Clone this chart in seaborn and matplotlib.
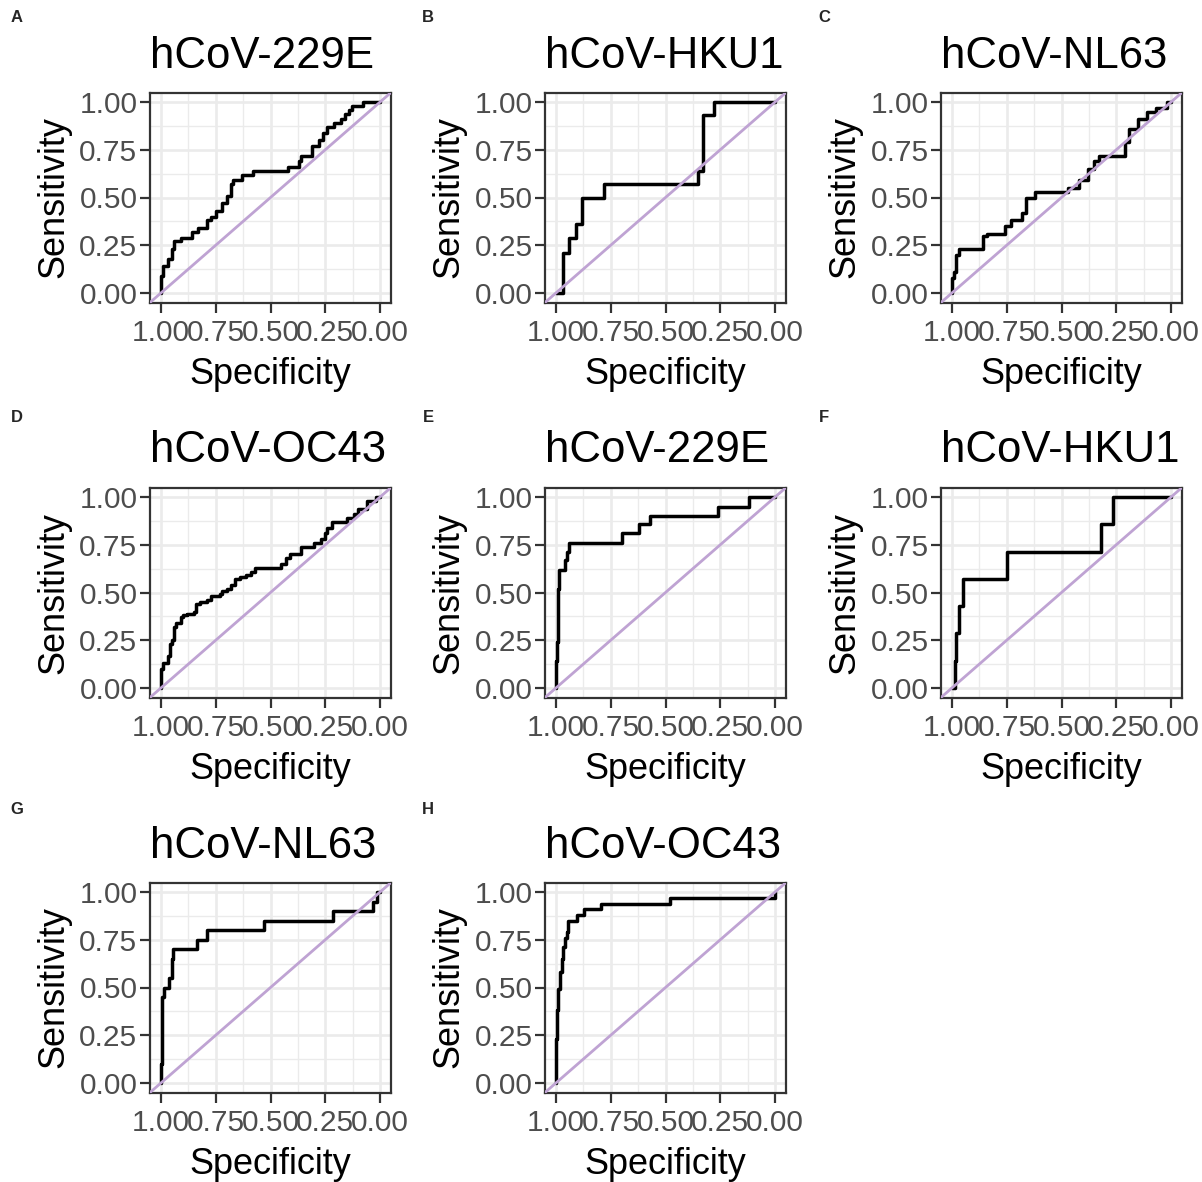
import matplotlib
matplotlib.use('Agg')
import matplotlib.pyplot as plt
import seaborn as sns
from matplotlib.ticker import FixedLocator, MultipleLocator

sns.set_theme(style='white')
plt.rcParams['font.family'] = ['Liberation Sans', 'DejaVu Sans']

TITLES = ['hCoV-229E', 'hCoV-HKU1', 'hCoV-NL63', 'hCoV-OC43',
          'hCoV-229E', 'hCoV-HKU1', 'hCoV-NL63', 'hCoV-OC43']
LETTERS = ['A', 'B', 'C', 'D', 'E', 'F', 'G', 'H']
TICKS = [1.00, 0.75, 0.50, 0.25, 0.00]

# ROC step corners (specificity, sensitivity)
spec_a = [1.00, 0.99, 0.97, 0.95, 0.94, 0.91, 0.86, 0.83, 0.79, 0.77, 0.75, 0.72, 0.70, 0.68, 0.67, 0.63,
          0.58, 0.42, 0.37, 0.36, 0.31, 0.28, 0.26, 0.24, 0.21, 0.18, 0.16, 0.14, 0.13, 0.08, 0.00]
sens_a = [0.00, 0.09, 0.14, 0.18, 0.23, 0.27, 0.29, 0.32, 0.34, 0.38, 0.40, 0.43, 0.47, 0.51, 0.57, 0.59,
          0.62, 0.64, 0.66, 0.69, 0.72, 0.77, 0.80, 0.84, 0.87, 0.89, 0.91, 0.94, 0.96, 0.98, 1.00]

spec_b = [1.00, 0.97, 0.94, 0.91, 0.88, 0.78, 0.35, 0.33, 0.28, 0.00]
sens_b = [0.00, 0.00, 0.21, 0.29, 0.36, 0.50, 0.57, 0.64, 0.93, 1.00]

spec_c = [1.00, 0.99, 0.98, 0.97, 0.86, 0.84, 0.76, 0.73, 0.68, 0.66, 0.62, 0.47, 0.42, 0.38, 0.35, 0.33,
          0.21, 0.19, 0.15, 0.11, 0.07, 0.02, 0.00]
sens_c = [0.00, 0.08, 0.11, 0.20, 0.23, 0.30, 0.31, 0.35, 0.38, 0.42, 0.50, 0.53, 0.55, 0.59, 0.65, 0.69,
          0.72, 0.79, 0.86, 0.91, 0.95, 0.97, 1.00]

spec_d = [1.00, 0.99, 0.97, 0.96, 0.95, 0.94, 0.93, 0.91, 0.90, 0.88, 0.85, 0.84, 0.82, 0.79, 0.77, 0.73,
          0.72, 0.70, 0.68, 0.66, 0.64, 0.61, 0.59, 0.57, 0.45, 0.43, 0.41, 0.36, 0.30, 0.27, 0.25, 0.24,
          0.22, 0.15, 0.12, 0.10, 0.06, 0.02, 0.00]
sens_d = [0.00, 0.10, 0.13, 0.17, 0.23, 0.25, 0.32, 0.34, 0.37, 0.38, 0.39, 0.40, 0.44, 0.45, 0.46, 0.48,
          0.49, 0.51, 0.52, 0.54, 0.57, 0.58, 0.59, 0.61, 0.63, 0.65, 0.68, 0.70, 0.74, 0.76, 0.78, 0.81,
          0.84, 0.87, 0.89, 0.91, 0.94, 0.98, 1.00]

spec_e = [1.00, 0.995, 0.99, 0.986, 0.96, 0.95, 0.94, 0.70, 0.62, 0.57, 0.26, 0.12, 0.00]
sens_e = [0.00, 0.14, 0.24, 0.52, 0.62, 0.67, 0.71, 0.76, 0.81, 0.86, 0.90, 0.95, 1.00]

spec_f = [1.00, 0.986, 0.98, 0.97, 0.95, 0.75, 0.32, 0.265, 0.00]
sens_f = [0.00, 0.00, 0.14, 0.29, 0.43, 0.57, 0.71, 0.86, 1.00]

spec_g = [1.00, 0.997, 0.994, 0.986, 0.962, 0.951, 0.947, 0.834, 0.791, 0.530, 0.216, 0.030, 0.012, 0.00]
sens_g = [0.00, 0.10, 0.25, 0.45, 0.50, 0.55, 0.65, 0.70, 0.75, 0.80, 0.85, 0.90, 0.95, 1.00]

spec_h = [1.00, 0.997, 0.992, 0.982, 0.974, 0.967, 0.959, 0.951, 0.944, 0.906, 0.871, 0.795, 0.479, 0.00, 0.00]
sens_h = [0.00, 0.23, 0.38, 0.49, 0.58, 0.65, 0.71, 0.76, 0.79, 0.85, 0.88, 0.91, 0.94, 0.97, 1.00]

CURVES = [(spec_a, sens_a), (spec_b, sens_b), (spec_c, sens_c), (spec_d, sens_d),
          (spec_e, sens_e), (spec_f, sens_f), (spec_g, sens_g), (spec_h, sens_h)]

W, H = 1202, 1182
COL_LEFT = [150, 545, 941]
ROW_TOP = [92.5, 487.5, 882.5]
LET_X = [17, 428, 824]
LET_Y = [18, 418, 810]
PW, PH = 241, 210

DIAG = '#BFA3D3'
GRID = '#EBEBEB'
DARK = '#333333'

fig = plt.figure(figsize=(W / 100, H / 100), dpi=100)

for i, (spec, sens) in enumerate(CURVES):
    r, c = divmod(i, 3)
    ax = fig.add_axes([COL_LEFT[c] / W, 1 - (ROW_TOP[r] + PH) / H, PW / W, PH / H])
    ax.set_axisbelow(True)
    sns.lineplot(x=spec, y=sens, sort=False, estimator=None, drawstyle='steps-pre',
                 color='black', lw=2.5, ax=ax, zorder=3)
    ax.axline((1, 0), (0, 1), color=DIAG, lw=2.0, zorder=4)

    ax.set_xlim(1.05, -0.05)
    ax.set_ylim(-0.05, 1.05)
    for axis in (ax.xaxis, ax.yaxis):
        axis.set_major_locator(FixedLocator(TICKS))
        axis.set_minor_locator(MultipleLocator(0.125))
    ax.set_xticklabels([f'{t:.2f}' for t in TICKS])
    ax.set_yticklabels([f'{t:.2f}' for t in TICKS])
    ax.grid(which='major', color=GRID, lw=1.9)
    ax.grid(which='minor', color=GRID, lw=1.0)
    ax.tick_params(which='major', length=7, width=1.6, color=DARK, labelsize=21.5,
                   labelcolor='#4D4D4D', pad=2, bottom=True, left=True)
    ax.tick_params(axis='x', pad=5)
    ax.tick_params(which='minor', length=0)
    for s in ax.spines.values():
        s.set_color(DARK)
        s.set_linewidth(1.6)

    ax.set_xlabel('Specificity', fontsize=26, color='black', labelpad=7)
    ax.set_ylabel('Sensitivity', fontsize=26, color='black', labelpad=6)
    ax.set_title(TITLES[i], loc='left', fontsize=31.5, color='black', pad=18)

    fig.text(LET_X[c] / W, 1 - LET_Y[r] / H, LETTERS[i], ha='center', va='center',
             fontsize=12, fontweight='bold')

fig.savefig('out.png', dpi=100, facecolor='white')
